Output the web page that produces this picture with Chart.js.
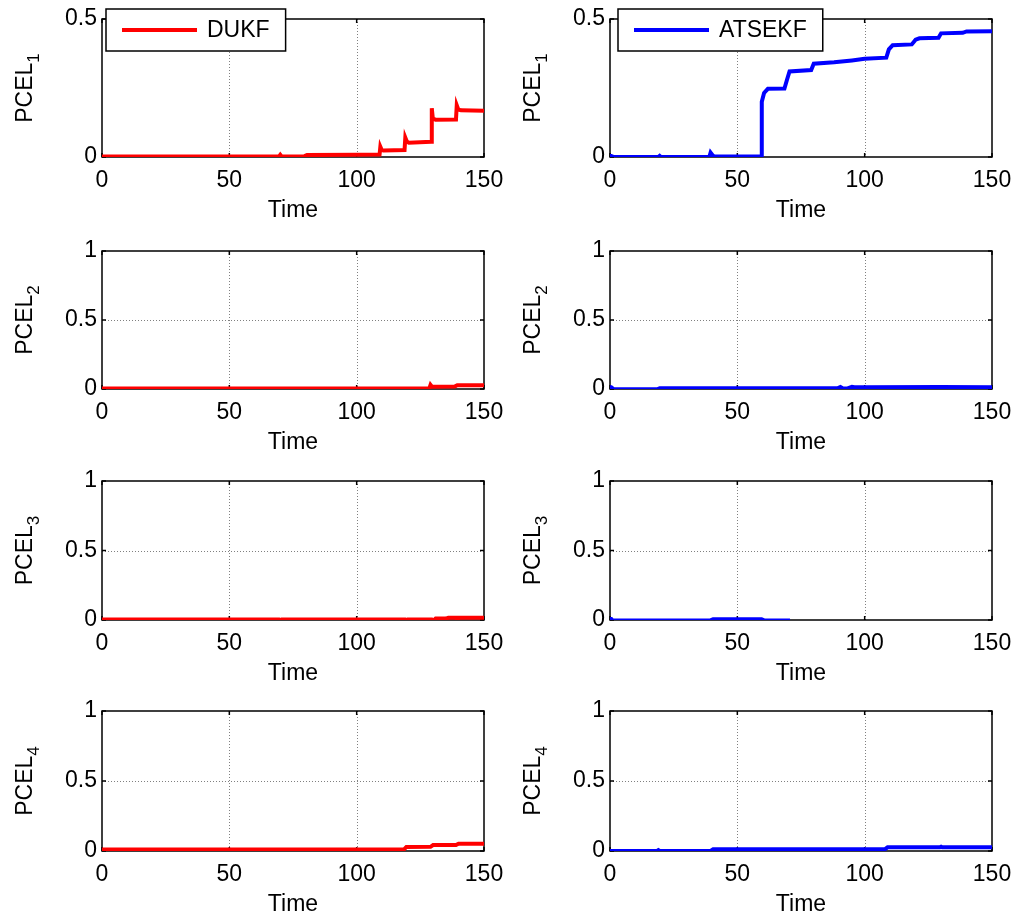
<!DOCTYPE html>
<html><head><meta charset="utf-8">
<script src="https://cdn.jsdelivr.net/npm/chart.js@4.4.0/dist/chart.umd.min.js"></script>
<style>
html,body{margin:0;padding:0;background:#fff;width:1019px;height:917px;overflow:hidden;position:relative;}
canvas{position:absolute;}
</style></head><body>
<script>
// ---------- data (time, value) ----------
const xTickValues = [0, 50, 100, 150];
const seriesNames = ['DUKF', 'ATSEKF'];
const yLabels = ['PCEL', 'PCEL', 'PCEL', 'PCEL'];
const ySubscripts = ['1', '2', '3', '4'];
const yMaxes = [0.5, 1, 1, 1];

const dukfT1 = [0, 20, 40, 60, 69.5, 70, 70.5, 79.5, 80.5, 100, 109, 109.3, 109.8, 110.5, 118.8, 119.1, 119.7, 120.5, 129.3, 129.5, 129.9, 131, 139, 139.3, 139.9, 141, 150];
const dukfV1 = [0.002, 0.002, 0.002, 0.002, 0.002, 0.008, 0.002, 0.003, 0.007, 0.008, 0.009, 0.037, 0.026, 0.024, 0.025, 0.07, 0.056, 0.052, 0.055, 0.177, 0.14, 0.135, 0.136, 0.187, 0.172, 0.169, 0.168];
const atsekfT1 = [0, 0.5, 1.5, 19, 19.5, 20, 39, 39.5, 40.5, 41, 59, 59.3, 59.6, 60.5, 62, 68.5, 69.5, 70.5, 79, 80, 88, 95, 100, 108.5, 109.5, 111, 118.5, 120, 121.5, 129, 130, 138.5, 140, 150];
const atsekfV1 = [0.004, 0.004, 0, 0, 0.004, 0, 0, 0.016, 0.004, 0.002, 0.002, 0.002, 0.2, 0.232, 0.247, 0.248, 0.28, 0.31, 0.315, 0.338, 0.343, 0.35, 0.356, 0.36, 0.39, 0.405, 0.408, 0.425, 0.43, 0.432, 0.448, 0.45, 0.455, 0.456];

const dukfT2 = [0, 50, 100, 128.5, 129, 129.5, 130.5, 138.5, 139.5, 150];
const dukfV2 = [0.003, 0.003, 0.003, 0.003, 0.03, 0.018, 0.017, 0.018, 0.028, 0.027];
const atsekfT2 = [0, 0.5, 1.5, 18.5, 19.5, 50, 89.5, 90.5, 91.5, 93, 95, 96, 100, 130, 150];
const atsekfV2 = [0.012, 0.012, -0.002, -0.002, 0.005, 0.006, 0.006, 0.014, 0.004, 0.003, 0.016, 0.013, 0.013, 0.014, 0.013];

const dukfT3 = [0, 69.5, 70, 70.5, 119, 119.5, 120, 129.5, 130, 131, 135, 136, 139, 139.5, 140, 141, 150];
const dukfV3 = [0.003, 0.003, -0.005, 0.003, 0.003, -0.006, 0.003, 0.003, -0.005, 0.01, 0.01, 0.016, 0.016, -0.006, 0.016, 0.016, 0.016];
const atsekfT3 = [0, 0.5, 1, 39.5, 40.5, 59.5, 60.5, 70, 70.5, 150];
const atsekfV3 = [0.008, 0.008, -0.003, -0.003, 0.006, 0.006, -0.003, -0.003, -0.05, -0.05];

const dukfT4 = [0, 118.5, 119.5, 129, 130, 139, 140, 150];
const dukfV4 = [0.01, 0.01, 0.028, 0.03, 0.042, 0.043, 0.052, 0.052];
const atsekfT4 = [0, 18.5, 19, 19.5, 39.5, 40.5, 108, 109, 129.5, 130, 130.5, 150];
const atsekfV4 = [0, 0, 0.006, 0, 0, 0.012, 0.013, 0.026, 0.026, 0.03, 0.026, 0.026];

const seriesT = [[dukfT1, atsekfT1], [dukfT2, atsekfT2], [dukfT3, atsekfT3], [dukfT4, atsekfT4]];
const seriesV = [[dukfV1, atsekfV1], [dukfV2, atsekfV2], [dukfV3, atsekfV3], [dukfV4, atsekfV4]];

// ---------- layout/style ----------
const COLORS = ['#ff0000', '#0000ff'];
const FONT = "Arial, 'Liberation Sans', Helvetica, sans-serif";
const FS = 23;
const cols = [
  {cLeft: 0, cWidth: 508, pLeft: 102, pRight: 484, legOff: 4},
  {cLeft: 508, cWidth: 511, pLeft: 610, pRight: 992, legOff: 8}
];
const plotTops = [19, 251, 481, 711];
const plotBottoms = [157, 389, 620, 851];
const CANVAS_H = 225, PAD_TOP = 19;

function line(ctx, x1, y1, x2, y2) { ctx.beginPath(); ctx.moveTo(x1, y1); ctx.lineTo(x2, y2); ctx.stroke(); }

const matlabAxes = {
  id: 'matlabAxes',
  beforeDatasetsDraw(chart, args, opts) {
    const {ctx, chartArea: a, scales: {x, y}} = chart;
    ctx.save();
    ctx.strokeStyle = '#808080'; ctx.lineWidth = 1; ctx.setLineDash([1, 2]);
    x.ticks.forEach(t => {
      if (t.value > x.min && t.value < x.max) {
        const px = Math.round(x.getPixelForValue(t.value)) + 0.5;
        line(ctx, px, a.top, px, a.bottom);
      }
    });
    y.ticks.forEach(t => {
      if (t.value > y.min && t.value < y.max) {
        const py = Math.round(y.getPixelForValue(t.value)) + 0.5;
        line(ctx, a.left, py, a.right, py);
      }
    });
    ctx.setLineDash([]);
    ctx.strokeStyle = '#000'; ctx.lineWidth = 1.5;
    ctx.strokeRect(a.left, a.top, a.right - a.left, a.bottom - a.top);
    const L = 4;
    x.ticks.forEach(t => {
      const px = x.getPixelForValue(t.value);
      line(ctx, px, a.bottom, px, a.bottom - L);
      line(ctx, px, a.top, px, a.top + L);
    });
    y.ticks.forEach(t => {
      const py = y.getPixelForValue(t.value);
      line(ctx, a.left, py, a.left + L, py);
      line(ctx, a.right, py, a.right - L, py);
    });
    ctx.restore();
  },
  afterDatasetsDraw(chart, args, opts) {
    const {ctx, chartArea: a} = chart;
    ctx.save();
    ctx.fillStyle = '#000';
    ctx.font = FS + 'px ' + FONT;
    // x title
    ctx.textAlign = 'center'; ctx.textBaseline = 'middle';
    ctx.fillText('Time', (a.left + a.right) / 2, a.bottom + 54);
    // y title with subscript
    const cx = a.left - 76, cy = (a.top + a.bottom) / 2;
    ctx.translate(cx, cy); ctx.rotate(-Math.PI / 2);
    ctx.textAlign = 'left'; ctx.textBaseline = 'middle';
    const w1 = ctx.measureText(opts.yLabel).width;
    ctx.font = Math.round(FS * 0.72) + 'px ' + FONT;
    const w2 = ctx.measureText(opts.ySub).width;
    const x0 = -(w1 + w2) / 2;
    ctx.font = FS + 'px ' + FONT;
    ctx.fillText(opts.yLabel, x0, 0);
    ctx.font = Math.round(FS * 0.72) + 'px ' + FONT;
    ctx.fillText(opts.ySub, x0 + w1, 8);
    ctx.restore();
    // legend
    if (opts.legend) {
      const ds = chart.data.datasets[0];
      ctx.save();
      ctx.font = FS + 'px ' + FONT;
      const tw = ctx.measureText(ds.label).width;
      const bx = a.left + opts.legOff, by = a.top - 10, bh = 42;
      const bw = 16 + 75 + 10 + tw + 16;
      ctx.fillStyle = '#fff'; ctx.fillRect(bx, by, bw, bh);
      ctx.strokeStyle = '#000'; ctx.lineWidth = 1.5; ctx.strokeRect(bx, by, bw, bh);
      ctx.strokeStyle = ds.borderColor; ctx.lineWidth = 4;
      line(ctx, bx + 16, by + 21, bx + 91, by + 21);
      ctx.fillStyle = '#000'; ctx.textAlign = 'left'; ctx.textBaseline = 'middle';
      ctx.fillText(ds.label, bx + 101, by + 22);
      ctx.restore();
    }
  }
};

for (let r = 0; r < 4; r++) {
  for (let c = 0; c < 2; c++) {
    const col = cols[c];
    const cTop = plotTops[r] - PAD_TOP;
    const cv = document.createElement('canvas');
    cv.width = col.cWidth; cv.height = CANVAS_H;
    cv.style.left = col.cLeft + 'px'; cv.style.top = cTop + 'px';
    cv.style.width = col.cWidth + 'px'; cv.style.height = CANVAS_H + 'px';
    document.body.appendChild(cv);
    const plotH = plotBottoms[r] - plotTops[r];
    const xAxisH = CANVAS_H - PAD_TOP - plotH;
    const yAxisW = col.pLeft - col.cLeft;
    const padRight = col.cWidth - (col.pRight - col.cLeft);
    const pts = seriesT[r][c].map((t, i) => ({x: t, y: seriesV[r][c][i]}));
    new Chart(cv, {
      type: 'line',
      data: {datasets: [{
        label: seriesNames[c], data: pts,
        borderColor: COLORS[c], backgroundColor: COLORS[c],
        borderWidth: 4, pointRadius: 0, tension: 0, fill: false
      }]},
      options: {
        responsive: false, animation: false, devicePixelRatio: 1,
        layout: {padding: {left: 0, right: padRight, top: PAD_TOP, bottom: 0}},
        plugins: {
          legend: {display: false}, tooltip: {enabled: false},
          matlabAxes: {yLabel: yLabels[r], ySub: ySubscripts[r], legend: r === 0, legOff: col.legOff}
        },
        scales: {
          x: {
            type: 'linear', min: 0, max: 150,
            afterBuildTicks: s => { s.ticks = xTickValues.map(v => ({value: v})); },
            afterFit: s => { s.height = xAxisH; s.paddingLeft = 0; s.paddingRight = 0; },
            grid: {display: false, drawTicks: false}, border: {display: false},
            ticks: {color: '#000', font: {family: FONT, size: FS}, padding: 10, maxRotation: 0, autoSkip: false,
                    callback: v => String(v)}
          },
          y: {
            type: 'linear', min: 0, max: yMaxes[r],
            ticks: {stepSize: 0.5, color: '#000', font: {family: FONT, size: FS}, padding: 5,
                    callback: v => String(v)},
            afterFit: s => { s.width = yAxisW; s.paddingTop = 0; s.paddingBottom = 0; },
            grid: {display: false, drawTicks: false}, border: {display: false}
          }
        }
      },
      plugins: [matlabAxes]
    });
  }
}
</script>
</body></html>
